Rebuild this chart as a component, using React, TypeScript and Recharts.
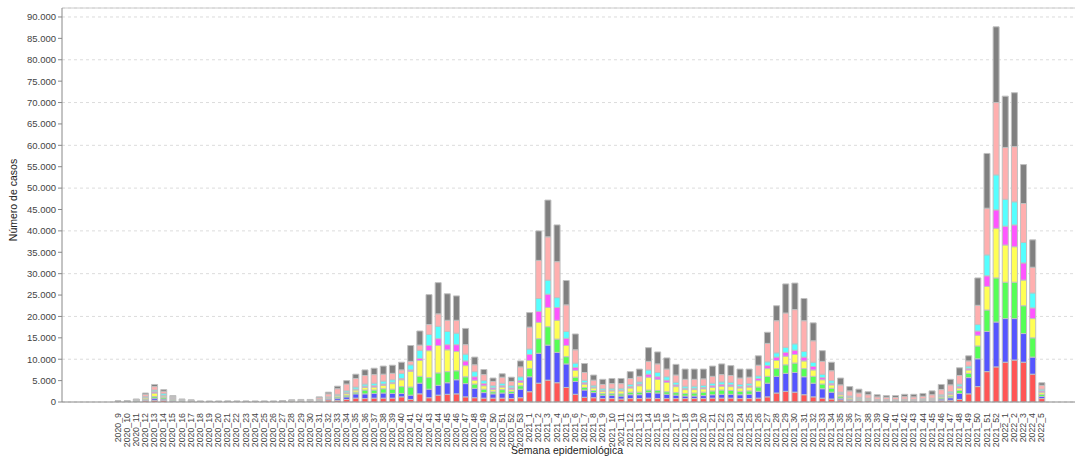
import React from "react";
import { Bar, BarChart, CartesianGrid, Label, ReferenceLine, XAxis, YAxis } from "recharts";

const weeks = [
  "2020_9", "2020_10", "2020_11", "2020_12", "2020_13", "2020_14", "2020_15", "2020_16", "2020_17",
  "2020_18", "2020_19", "2020_20", "2020_21", "2020_22", "2020_23", "2020_24", "2020_25", "2020_26",
  "2020_27", "2020_28", "2020_29", "2020_30", "2020_31", "2020_32", "2020_33", "2020_34", "2020_35",
  "2020_36", "2020_37", "2020_38", "2020_39", "2020_40", "2020_41", "2020_42", "2020_43", "2020_44",
  "2020_45", "2020_46", "2020_47", "2020_48", "2020_49", "2020_50", "2020_51", "2020_52", "2020_53",
  "2021_1", "2021_2", "2021_3", "2021_4", "2021_5", "2021_6", "2021_7", "2021_8", "2021_9",
  "2021_10", "2021_11", "2021_12", "2021_13", "2021_14", "2021_15", "2021_16", "2021_17", "2021_18",
  "2021_19", "2021_20", "2021_21", "2021_22", "2021_23", "2021_24", "2021_25", "2021_26", "2021_27",
  "2021_28", "2021_29", "2021_30", "2021_31", "2021_32", "2021_33", "2021_34", "2021_35", "2021_36",
  "2021_37", "2021_38", "2021_39", "2021_40", "2021_41", "2021_42", "2021_43", "2021_44", "2021_45",
  "2021_46", "2021_47", "2021_48", "2021_49", "2021_50", "2021_51", "2021_52",
  "2022_1", "2022_2", "2022_3", "2022_4", "2022_5",
];

// one array per stacked series, bottom to top
const red = [
  30, 40, 100, 300, 400, 400, 200, 100, 70, 30, 30, 30, 30, 30, 30, 30, 30, 30,
  40, 70, 80, 100, 200, 500, 400, 600, 900, 800, 900, 900, 900, 1200, 600, 1900, 1000, 1600, 1800, 1900, 1200, 1000, 900, 900, 900, 800, 1000,
  2400, 4400, 5100, 4500, 3400, 1800, 1100, 1000, 800, 800, 700, 800, 800, 900, 800, 800, 800, 800, 800, 800, 900, 900, 900, 800, 800,
  900, 1200, 2100, 2500, 2300, 1700, 1200, 900, 700, 500, 300, 300, 300, 200, 200, 150, 200, 150, 100, 150, 300, 400, 600, 1900, 3600, 7100, 8200,
  9300, 9800, 9300, 6500, 800,
];
const blue = [
  30, 40, 100, 200, 500, 300, 200, 100, 60, 30, 20, 30, 30, 20, 30, 30, 20, 30,
  40, 60, 70, 70, 100, 250, 500, 600, 1000, 1100, 1100, 1200, 1100, 800, 1000, 2500, 2000, 2300, 2700, 3300, 3100, 2200, 1300, 1000, 1200, 1200, 2000,
  3500, 7000, 8200, 7100, 5500, 3000, 1700, 1200, 800, 800, 700, 900, 900, 1300, 1300, 1000, 800, 600, 600, 700, 800, 900, 900, 900, 1000,
  1600, 3200, 3900, 4200, 4600, 4200, 3200, 2200, 1600, 400, 200, 100, 100, 50, 50, 50, 100, 100, 300, 200, 400, 600, 1400, 3800, 6500, 9400, 10500,
  10200, 9700, 6700, 4000, 500,
];
const green = [
  30, 40, 100, 200, 400, 400, 200, 100, 60, 20, 20, 20, 30, 20, 20, 20, 30, 20,
  40, 60, 70, 70, 100, 150, 300, 400, 400, 900, 800, 1000, 1000, 1600, 1900, 1600, 2700, 2900, 2600, 2100, 1600, 1000, 800, 500, 800, 500, 800,
  1900, 3400, 4300, 3100, 1700, 1000, 600, 500, 400, 400, 500, 600, 600, 600, 600, 600, 600, 600, 700, 800, 900, 1000, 900, 800, 800,
  1000, 1600, 1800, 2000, 2200, 1900, 1600, 1100, 900, 400, 200, 200, 100, 100, 100, 100, 100, 100, 100, 150, 300, 400, 700, 1000, 3000, 5000, 10300,
  8500, 8500, 6500, 4500, 500,
];
const yellow = [
  30, 40, 100, 300, 800, 300, 200, 100, 60, 20, 20, 20, 20, 30, 20, 20, 20, 20,
  40, 60, 70, 70, 100, 150, 300, 400, 500, 600, 700, 800, 1300, 1600, 3700, 3700, 6300, 6400, 5100, 4500, 2600, 900, 800, 500, 600, 500, 800,
  1900, 3800, 4500, 4400, 2600, 1600, 800, 600, 500, 600, 700, 1000, 1500, 3000, 2600, 2200, 1400, 900, 800, 800, 800, 900, 900, 800, 900,
  1500, 1800, 1900, 2000, 2000, 1800, 1500, 1000, 800, 400, 300, 200, 200, 100, 100, 100, 100, 100, 100, 150, 300, 400, 600, 800, 2500, 5500, 11600,
  8700, 8300, 6000, 4500, 500,
];
const magenta = [
  30, 30, 50, 100, 300, 200, 150, 50, 50, 20, 20, 20, 20, 20, 20, 20, 20, 20,
  30, 50, 60, 50, 50, 50, 100, 200, 200, 300, 300, 300, 300, 300, 300, 500, 1200, 1600, 1200, 1600, 1100, 800, 500, 400, 300, 300, 400,
  1400, 2600, 3100, 3000, 1700, 700, 300, 200, 200, 200, 200, 300, 400, 700, 600, 500, 400, 300, 300, 300, 400, 400, 400, 300, 300,
  500, 700, 800, 900, 1000, 900, 800, 500, 400, 300, 200, 100, 100, 50, 50, 50, 50, 50, 50, 100, 150, 300, 400, 400, 1000, 2500, 4300,
  4400, 5100, 4000, 2500, 300,
];
const cyan = [
  30, 30, 50, 200, 400, 400, 150, 50, 50, 20, 20, 20, 20, 20, 20, 20, 20, 20,
  30, 50, 60, 50, 50, 100, 200, 400, 500, 500, 600, 700, 600, 1200, 1200, 1900, 2600, 2900, 3100, 2700, 1600, 1200, 700, 500, 600, 500, 900,
  1300, 3000, 3300, 2300, 1600, 1000, 600, 400, 400, 400, 400, 500, 500, 1000, 1000, 800, 600, 500, 500, 500, 600, 600, 600, 500, 500,
  600, 900, 1000, 1200, 1500, 1300, 1000, 800, 600, 300, 200, 200, 100, 100, 100, 100, 100, 100, 100, 150, 250, 300, 500, 500, 1500, 4900, 8200,
  6300, 5400, 4800, 3500, 400,
];
const pink = [
  40, 40, 100, 500, 800, 500, 200, 100, 70, 30, 30, 20, 30, 30, 30, 20, 30, 30,
  40, 80, 100, 100, 400, 700, 1300, 1600, 2000, 2000, 2000, 1600, 1500, 800, 800, 1200, 2300, 2900, 2600, 3000, 2200, 1600, 1400, 1000, 1400, 1000, 2300,
  5100, 8900, 10100, 8400, 6200, 3100, 1800, 1200, 1000, 1100, 1100, 1400, 1300, 2000, 2000, 1800, 1700, 1600, 1600, 1500, 1600, 1700, 1600, 1500, 1500,
  2500, 4300, 7500, 8000, 8000, 7200, 5000, 3000, 2300, 1700, 1200, 1000, 800, 600, 500, 500, 600, 600, 600, 800, 1200, 1600, 2000, 1200, 4500, 10900, 16900,
  12100, 12900, 9100, 6000, 900,
];
const gray = [
  30, 40, 100, 300, 500, 400, 200, 100, 80, 30, 30, 30, 20, 30, 30, 30, 30, 30,
  40, 70, 90, 90, 200, 400, 600, 800, 1000, 1300, 1500, 1900, 1900, 1800, 3700, 3300, 7000, 7300, 6200, 5700, 3800, 1800, 1200, 800, 800, 1000, 1400,
  3400, 6900, 8600, 8600, 5700, 3700, 2100, 1200, 1200, 1200, 1200, 1600, 1700, 3200, 2800, 2600, 2500, 2400, 2400, 2300, 2400, 2500, 2300, 2100, 1900,
  2200, 2600, 3500, 6800, 6200, 5200, 4200, 2500, 2000, 1600, 1000, 900, 700, 500, 400, 450, 550, 600, 650, 900, 1200, 1300, 1800, 1200, 6400, 12800, 17700,
  12000, 12600, 9100, 6400, 600,
];

const yTicks = [0, 5000, 10000, 15000, 20000, 25000, 30000, 35000, 40000, 45000, 50000, 55000, 60000, 65000, 70000, 75000, 80000, 85000, 90000];
const yMax = 92100;

const series = [
  { key: "s1", values: red, color: "#ff5555" },
  { key: "s2", values: blue, color: "#5555ff" },
  { key: "s3", values: green, color: "#55ff55" },
  { key: "s4", values: yellow, color: "#ffff55" },
  { key: "s5", values: magenta, color: "#ff55ff" },
  { key: "s6", values: cyan, color: "#55ffff" },
  { key: "s7", values: pink, color: "#ffafaf" },
  { key: "s8", values: gray, color: "#808080" },
];

const data = weeks.map((w, i) => {
  const row: Record<string, string | number> = { week: w };
  series.forEach((s) => (row[s.key] = s.values[i]));
  return row;
});

const font = "'Liberation Sans', Arial, sans-serif";
const fmt = (v: number) => String(v).replace(/\B(?=(\d{3})+(?!\d))/g, ".");

const WeekTick = (props: any) => {
  const { x, y, payload } = props;
  return (
    <text
      transform={`translate(${x + 3},${y + 3}) rotate(-90)`}
      textAnchor="end"
      fontSize={8.8}
      fontFamily={font}
      fill="#444"
    >
      {payload.value}
    </text>
  );
};

const YTitle = () => (
  <text x={17} y={200} transform="rotate(-90 17 200)" textAnchor="middle" fontSize={10.5} fontFamily={font} fill="#222">
    Número de casos
  </text>
);

const XTitle = () => (
  <text x={567} y={454} textAnchor="middle" fontSize={10.5} fontFamily={font} fill="#222">
    Semana epidemiológica
  </text>
);

export default function App() {
  return (
    <div style={{ position: "absolute", left: 0, top: 0, background: "#fff" }}>
      <BarChart width={1090} height={456} data={data} margin={{ top: 8, right: 15, left: 0, bottom: 0 }} barSize={6}>
        <CartesianGrid vertical={false} stroke="#dcdcdc" strokeDasharray="3 3" />
        <XAxis
          dataKey="week"
          interval={0}
          height={54}
          tick={<WeekTick />}
          tickLine={false}
          axisLine={{ stroke: "#888" }}
          padding={{ left: 51, right: 29 }}
        >
          <Label content={<XTitle />} />
        </XAxis>
        <YAxis
          width={62}
          domain={[0, yMax]}
          ticks={yTicks}
          tickFormatter={fmt}
          tickSize={4}
          tickMargin={2}
          tick={{ fontSize: 9.5, fontFamily: font, fill: "#444" }}
          tickLine={{ stroke: "#888" }}
          axisLine={{ stroke: "#888" }}
          allowDataOverflow
        >
          <Label content={<YTitle />} />
        </YAxis>
        <ReferenceLine y={yMax} stroke="#ccc" />
        {series.map((s) => (
          <Bar
            key={s.key}
            dataKey={s.key}
            stackId="a"
            fill={s.color}
            stroke="#c0c0c0"
            strokeWidth={1}
            isAnimationActive={false}
          />
        ))}
      </BarChart>
    </div>
  );
}
